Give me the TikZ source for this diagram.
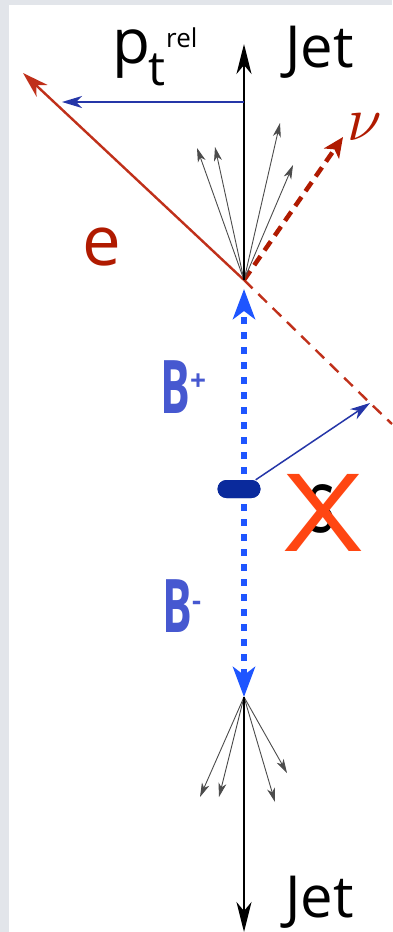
\documentclass[tikz,border=0pt]{standalone}
\usepackage{fontspec}
\setmainfont{Open Sans}
\usetikzlibrary{arrows.meta}
\definecolor{frame}{HTML}{E2E5EA}
\definecolor{elered}{HTML}{C0301A}
\definecolor{nured}{HTML}{B01A00}
\definecolor{bblue}{HTML}{1E55FF}
\definecolor{lblue}{HTML}{4658D0}
\definecolor{ptblue}{HTML}{2536A8}
\definecolor{blobblue}{HTML}{0A2A9C}
\definecolor{xorange}{HTML}{FF4612}
\tikzset{
  jetaxis/.style={-{Stealth[length=30pt, width=15pt, inset=9pt]}, line width=2.4pt, draw=black},
  trk/.style={-{Stealth[length=14pt, width=8pt, inset=4pt]}, line width=0.9pt, draw=black!70},
  bflight/.style={-{Stealth[length=30pt, width=22pt, inset=8pt]}, line width=5.5pt, draw=bblue,
                  dash pattern=on 7pt off 8pt},
  elec/.style={-{Stealth[length=26pt, width=16pt, inset=8pt]}, line width=2.4pt, draw=elered},
  eback/.style={line width=2.4pt, draw=elered, dash pattern=on 12pt off 8pt},
  neut/.style={-{Stealth[length=20pt, width=18pt, inset=5pt]}, line width=4.5pt, draw=nured,
               dash pattern=on 11pt off 7pt},
  thinblue/.style={-{Stealth[length=20pt, width=12pt, inset=6pt]}, line width=1.5pt, draw=ptblue},
  lbl/.style={inner sep=0pt, anchor=base west},
  blobstyle/.style={rectangle, rounded corners=9pt, fill=blobblue, minimum width=43pt,
                    minimum height=18pt, inner sep=0pt},
}

\begin{document}
\begin{tikzpicture}[x=1pt, y=-1pt]
\useasboundingbox (0,0) rectangle (392,932);
\fill[frame] (0,0) rectangle (392,932);
\fill[white] (9,5) rectangle (392,932);

% vertices and end points
\coordinate (V) at (244,280);
\coordinate (W) at (244,697);
\coordinate (jetT) at (244,44);
\coordinate (jetB) at (244,932);
\coordinate (ptS) at (244,102);
\coordinate (ptE) at (62,102);
\coordinate (eTip) at (23,73);
\coordinate (sTip) at (370,403);
\coordinate (eEnd) at (392,424);
\coordinate (nuTip) at (343,137);
\coordinate (bTop) at (244,289);

% B flight lines and the B decay point
\node[blobstyle] (blob) at (239,489) {};
\draw[bflight] (blob.center -| V) -- (bTop);
\draw[bflight] (blob.center -| V) -- (W);
\node[blobstyle] at (blob) {};

% upper jet with the lepton
\draw[eback] (V) -- (sTip) -- (eEnd);
\draw[elec] (V) -- (eTip);
\draw[neut] (V) -- (nuTip);
\foreach \tx/\ty in {197/148, 215/147, 280/123, 293/165}
  \draw[trk] (V) -- (\tx,\ty);
\draw[jetaxis] (V) -- (jetT);
\draw[thinblue] (ptS) -- (ptE);

% lower jet
\foreach \tx/\ty in {200/797, 219/797, 275/802, 287/773}
  \draw[trk] (W) -- (\tx,\ty);
\draw[jetaxis] (W) -- (jetB);

% s-hadron side
\draw[thinblue] ([xshift=-5pt]blob.north east) -- (sTip);
\node[inner sep=0pt] (sq) at (322,509) {\scalebox{0.65}[1]{\fontsize{88}{88}\selectfont s}};
\node[inner sep=0pt, text=xorange] (cross) at (323,513) {\scalebox{1.25}[1]{\fontsize{108}{108}\selectfont X}};

% labels
\node[lbl] (jetlblT) at (285,67) {\fontsize{58}{58}\selectfont Jet};
\node[lbl] (jetlblB) at (285,917) {\fontsize{58}{58}\selectfont Jet};
\node[lbl] (ptp) at (112,63) {\fontsize{62}{62}\selectfont p};
\node[lbl] (ptt) at (148,85) {\fontsize{48}{48}\selectfont t};
\node[lbl] (ptrel) at (166,47) {\fontsize{26}{26}\selectfont rel};
\node[lbl, text=nured] (elbl) at (82,265) {\fontsize{69}{69}\selectfont e};
\node[lbl, text=nured] (nulbl) at (347,140) {\scalebox{6.2}{$\nu$}};
\node[lbl, text=lblue] (bplus) at (160,413) {\scalebox{0.6}[1]{\fontsize{74}{74}\selectfont\bfseries B}\raisebox{23pt}{\fontsize{28}{28}\selectfont\bfseries +}};
\node[lbl, text=lblue] (bminus) at (162,632) {\scalebox{0.6}[1]{\fontsize{74}{74}\selectfont\bfseries B}\raisebox{22pt}{\fontsize{28}{28}\selectfont\bfseries -}};
\end{tikzpicture}
\end{document}
